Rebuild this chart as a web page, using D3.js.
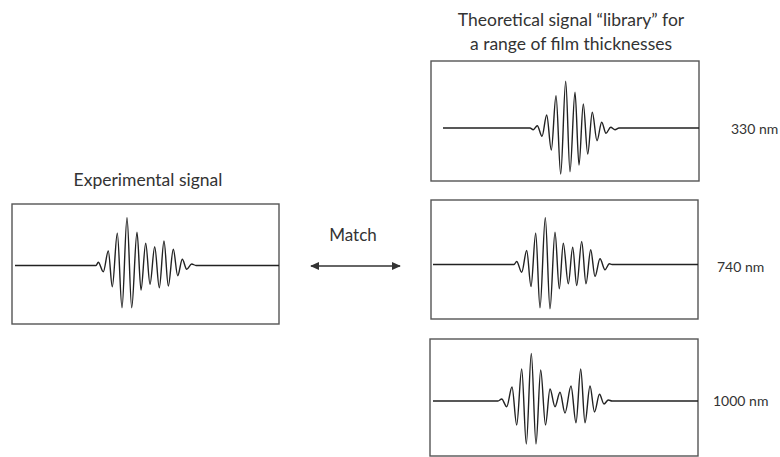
<!DOCTYPE html>
<html>
<head>
<meta charset="utf-8">
<script src="https://cdn.jsdelivr.net/npm/d3@7"></script>
<style>
  html, body { margin: 0; padding: 0; background: #ffffff; }
  svg { display: block; }
  text { font-family: Lato, "Open Sans", sans-serif; fill: #333; }
</style>
</head>
<body>
<svg id="chart" width="780" height="457"></svg>
<script>
// ---------------- DATA ----------------
// time positions of waveform extrema (arbitrary time units across each panel, 0..268)
// amplitudes (arbitrary units, panel range -60..60)
const expTime = [3, 84, 86.3, 91.3, 96.3, 100.3, 105.3, 110, 115, 119.7, 125, 129, 133.7, 138, 142.7, 147.3, 152, 156.3, 161.3, 165.7, 170.3, 174.7, 179.7, 184, 267];
const expAmp  = [0, 0, 3.2, -6.2, 14.5, -21.2, 32.2, -42.2, 47.8, -42.2, 33.2, -24.5, 22.2, -18.8, 18.8, -22.2, 24.5, -20.5, 16.2, -10.2, 6.2, -3.8, 1.5, 0, 0];

const t330Time = [12, 99, 102.3, 106.3, 111, 115.7, 120.3, 125, 129.7, 134.7, 139, 144, 148, 152.3, 156.7, 161.3, 166, 170.7, 175, 179.7, 184, 188, 268];
const t330Amp  = [0, 0, -1.7, 2.3, -8.3, 13, -22, 32.3, -46, 46.7, -43.7, 35.7, -37, 24, -26, 15.7, -12.7, 5.7, -5.3, 0.7, -1.7, 0, 0];

const t740Time = [2, 83, 85.7, 90.7, 95.7, 100, 104.7, 109, 114.3, 119, 124, 128.3, 132.3, 137.3, 141.7, 145.7, 150.7, 155, 159.7, 164, 169, 174, 178.3, 181, 267];
const t740Amp  = [0, 0, 3, -7.7, 14, -22, 31.3, -43.3, 46.7, -44.3, 32.3, -24.3, 21.3, -19.3, 17.3, -21, 23, -19.3, 14.7, -12, 5.7, -5.3, 0.7, 0, 0];

const t1000Time = [3, 68, 71.7, 76.7, 82, 86.7, 91.7, 96.3, 101.3, 106, 110.7, 115.5, 120, 125, 130, 135, 141, 146, 150.7, 155, 160, 164.5, 169.5, 174, 178.3, 182, 268];
const t1000Amp  = [0, 0, 2, -5.7, 14, -24, 32, -43, 47.5, -43, 31, -24, 12, -5.7, 8.7, -12, 15, -21.7, 32, -21.7, 15, -11, 6.7, -3, 1, 0, 0];

const thicknessLabels = ["330 nm", "740 nm", "1000 nm"];
const expTitle = "Experimental signal";
const libTitle = ["Theoretical signal \u201clibrary\u201d for", "a range of film thicknesses"];
const matchLabel = "Match";

// ---------------- LAYOUT ----------------
const svg = d3.select("#chart");

const panels = [
  { time: expTime,   amp: expAmp,   box: { x: 12,  y: 204, w: 267, h: 120 }, base: 265.5, label: null },
  { time: t330Time,  amp: t330Amp,  box: { x: 431, y: 61,  w: 268, h: 120 }, base: 128,   label: thicknessLabels[0], lx: 731, ly: 134 },
  { time: t740Time,  amp: t740Amp,  box: { x: 431, y: 200, w: 267, h: 119 }, base: 264.5, label: thicknessLabels[1], lx: 717, ly: 272 },
  { time: t1000Time, amp: t1000Amp, box: { x: 430, y: 339, w: 268, h: 117 }, base: 401,   label: thicknessLabels[2], lx: 713, ly: 406 }
];

panels.forEach(p => {
  const x = d3.scaleLinear().domain([0, 268]).range([p.box.x, p.box.x + 268]);
  const y = d3.scaleLinear().domain([-60, 60]).range([p.base + 60, p.base - 60]);
  const g = svg.append("g");

  g.append("rect")
    .attr("x", p.box.x).attr("y", p.box.y)
    .attr("width", p.box.w).attr("height", p.box.h)
    .attr("fill", "none").attr("stroke", "#555").attr("stroke-width", 1.4);

  const pts = p.time.map((t, i) => [t, p.amp[i]]);
  const line = d3.line().x(d => x(d[0])).y(d => y(d[1])).curve(d3.curveMonotoneX);
  g.append("path")
    .attr("d", line(pts))
    .attr("fill", "none").attr("stroke", "#222").attr("stroke-width", 1.4)
    .attr("stroke-linejoin", "round");

  if (p.label) {
    g.append("text").attr("x", p.lx).attr("y", p.ly)
      .attr("font-size", 14).text(p.label);
  }
});

// titles
svg.append("text").attr("x", 148).attr("y", 186).attr("text-anchor", "middle")
  .attr("font-size", 17.5).text(expTitle);
svg.append("text").attr("x", 571).attr("y", 26).attr("text-anchor", "middle")
  .attr("font-size", 17.5).text(libTitle[0]);
svg.append("text").attr("x", 571).attr("y", 50).attr("text-anchor", "middle")
  .attr("font-size", 17.5).text(libTitle[1]);

// match arrow
svg.append("text").attr("x", 353).attr("y", 241).attr("text-anchor", "middle")
  .attr("font-size", 17).text(matchLabel);

const defs = svg.append("defs");
defs.append("marker").attr("id", "ah").attr("viewBox", "0 0 10 10")
  .attr("refX", 9).attr("refY", 5).attr("markerWidth", 9).attr("markerHeight", 9)
  .attr("markerUnits", "userSpaceOnUse").attr("orient", "auto-start-reverse")
  .append("path").attr("d", "M0,0.5 L10,5 L0,9.5 Z").attr("fill", "#333");

svg.append("line").attr("x1", 311).attr("y1", 266).attr("x2", 400).attr("y2", 266)
  .attr("stroke", "#333").attr("stroke-width", 1.6)
  .attr("marker-start", "url(#ah)").attr("marker-end", "url(#ah)");
</script>
</body>
</html>
